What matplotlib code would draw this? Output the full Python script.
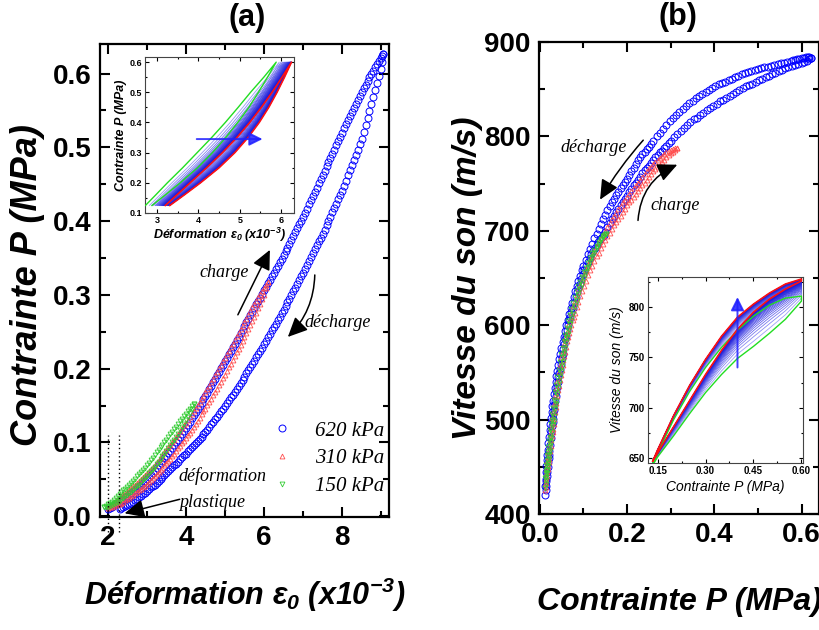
import numpy as np
import matplotlib
matplotlib.use('Agg')
import matplotlib.pyplot as plt
from matplotlib.patches import FancyArrowPatch
from matplotlib.lines import Line2D
from matplotlib.ticker import MultipleLocator

plt.rcParams['font.family'] = ['Liberation Sans', 'DejaVu Sans']
plt.rcParams['mathtext.fontset'] = 'custom'
plt.rcParams['mathtext.it'] = 'Liberation Sans:italic:bold'
plt.rcParams['mathtext.rm'] = 'Liberation Sans:italic:bold'
plt.rcParams['mathtext.bf'] = 'Liberation Sans:italic:bold'

# ---------------- DATA ----------------
# Panel (a): strain (x1e-3), stress P (MPa)
a620_load = [(2.0,.010),(2.05,.0115),(2.1,.013),(2.15,.015),(2.2,.017),(2.25,.0185),(2.3,.020),(2.35,.022),(2.4,.024),(2.45,.026),
(2.5,.028),(2.55,.030),(2.6,.032),(2.65,.034),(2.7,.036),(2.75,.0385),(2.8,.041),(2.85,.043),(2.9,.045),(2.95,.0475),
(3.0,.050),(3.05,.053),(3.1,.056),(3.15,.059),(3.2,.062),(3.25,.0655),(3.3,.069),(3.35,.072),(3.4,.075),(3.45,.0785),
(3.5,.082),(3.55,.0855),(3.6,.089),(3.65,.093),(3.7,.097),(3.75,.1005),(3.8,.104),(3.85,.108),(3.9,.112),(3.95,.116),
(4.0,.120),(4.05,.124),(4.1,.128),(4.15,.1325),(4.2,.137),(4.25,.141),(4.3,.145),(4.35,.1495),(4.4,.154),(4.45,.1585),
(4.5,.163),(4.55,.1675),(4.6,.172),(4.65,.177),(4.7,.182),(4.75,.1865),(4.8,.191),(4.85,.196),(4.9,.201),(4.95,.2055),
(5.0,.210),(5.05,.215),(5.1,.220),(5.15,.2245),(5.2,.229),(5.25,.234),(5.3,.239),(5.35,.2435),(5.4,.248),(5.45,.253),
(5.5,.258),(5.55,.263),(5.6,.268),(5.65,.2725),(5.7,.277),(5.75,.282),(5.8,.287),(5.85,.2915),(5.9,.296),(5.95,.301),
(6.0,.306),(6.05,.311),(6.1,.3155),(6.15,.3205),(6.2,.325),(6.25,.330),(6.3,.335),(6.35,.3395),(6.4,.3445),(6.45,.349),
(6.5,.354),(6.55,.359),(6.6,.364),(6.65,.3695),(6.7,.3745),(6.75,.3795),(6.8,.385),(6.85,.390),(6.9,.3955),(6.95,.4005),
(7.0,.406),(7.05,.4115),(7.1,.417),(7.15,.4225),(7.2,.428),(7.25,.4335),(7.3,.439),(7.35,.445),(7.4,.451),(7.45,.4565),
(7.5,.462),(7.55,.468),(7.6,.474),(7.65,.4795),(7.7,.485),(7.75,.491),(7.8,.497),(7.85,.5025),(7.9,.508),(7.95,.514),
(8.0,.520),(8.05,.5255),(8.1,.531),(8.15,.5365),(8.2,.542),(8.25,.5475),(8.3,.553),(8.35,.5585),(8.4,.564),(8.45,.5695),
(8.5,.575),(8.55,.580),(8.6,.585),(8.65,.590),(8.7,.595),(8.75,.5995),(8.8,.604),(8.85,.6085),(8.9,.613),(8.95,.617),
(9.0,.621),(9.03,.624),(9.05,.627)]
a620_unload = [(9.05,.627),(9.025,.616),(9.0,.606),(8.95,.5965),(8.9,.587),(8.85,.5775),(8.8,.568),(8.75,.5585),(8.7,.549),(8.65,.5395),
(8.6,.530),(8.55,.5205),(8.5,.511),(8.45,.504),(8.4,.497),(8.35,.490),(8.3,.483),(8.25,.476),(8.2,.469),(8.15,.462),
(8.1,.455),(8.05,.448),(8.0,.441),(7.95,.435),(7.9,.4295),(7.85,.4235),(7.8,.418),(7.75,.412),(7.7,.406),(7.65,.400),
(7.6,.3945),(7.55,.3885),(7.5,.383),(7.45,.3775),(7.4,.3725),(7.35,.367),(7.3,.362),(7.25,.3565),(7.2,.351),(7.15,.346),
(7.1,.3405),(7.05,.335),(7.0,.330),(6.95,.325),(6.9,.320),(6.85,.315),(6.8,.310),(6.75,.305),(6.7,.300),(6.65,.295),
(6.6,.290),(6.55,.285),(6.5,.280),(6.45,.2755),(6.4,.2705),(6.35,.266),(6.3,.261),(6.25,.2565),(6.2,.252),(6.15,.247),
(6.1,.2425),(6.05,.2375),(6.0,.233),(5.95,.2285),(5.9,.224),(5.85,.2195),(5.8,.2155),(5.75,.211),(5.7,.2065),(5.65,.202),
(5.6,.198),(5.55,.1935),(5.5,.189),(5.45,.185),(5.4,.181),(5.35,.177),(5.3,.173),(5.25,.169),(5.2,.165),(5.15,.161),
(5.1,.157),(5.05,.153),(5.0,.149),(4.95,.1455),(4.9,.142),(4.85,.1385),(4.8,.135),(4.75,.1315),(4.7,.128),(4.65,.1245),
(4.6,.121),(4.55,.1175),(4.5,.114),(4.45,.111),(4.4,.108),(4.35,.105),(4.3,.102),(4.25,.099),(4.2,.096),(4.15,.0935),
(4.1,.091),(4.05,.088),(4.0,.085),(3.95,.0825),(3.9,.080),(3.85,.077),(3.8,.074),(3.75,.0715),(3.7,.069),(3.65,.0665),
(3.6,.064),(3.55,.061),(3.5,.058),(3.45,.0555),(3.4,.053),(3.35,.0505),(3.3,.048),(3.25,.0455),(3.2,.043),(3.15,.041),
(3.1,.039),(3.05,.0365),(3.0,.034),(2.95,.032),(2.9,.030),(2.85,.028),(2.8,.026),(2.75,.024),(2.7,.022),(2.65,.020),
(2.6,.018),(2.55,.0165),(2.5,.015),(2.45,.0135),(2.4,.012),(2.35,.011),(2.3,.010)]
a310_load = [(2.0,.014),(2.05,.0155),(2.1,.017),(2.15,.019),(2.2,.021),(2.25,.023),(2.3,.025),(2.35,.027),(2.4,.029),(2.45,.031),
(2.5,.033),(2.55,.0355),(2.6,.038),(2.65,.0405),(2.7,.043),(2.75,.0455),(2.8,.048),(2.85,.0505),(2.9,.053),(2.95,.0555),
(3.0,.058),(3.05,.061),(3.1,.064),(3.15,.067),(3.2,.070),(3.25,.073),(3.3,.076),(3.35,.0795),(3.4,.083),(3.45,.0865),
(3.5,.090),(3.55,.0935),(3.6,.097),(3.65,.1005),(3.7,.104),(3.75,.108),(3.8,.112),(3.85,.1155),(3.9,.119),(3.95,.123),
(4.0,.127),(4.05,.131),(4.1,.135),(4.15,.139),(4.2,.143),(4.25,.147),(4.3,.151),(4.35,.155),(4.4,.159),(4.45,.1635),
(4.5,.168),(4.55,.1725),(4.6,.177),(4.65,.1815),(4.7,.186),(4.75,.191),(4.8,.196),(4.85,.2005),(4.9,.205),(4.95,.210),
(5.0,.215),(5.05,.2195),(5.1,.224),(5.15,.229),(5.2,.234),(5.25,.239),(5.3,.244),(5.35,.249),(5.4,.254),(5.45,.2585),
(5.5,.263),(5.55,.268),(5.6,.273),(5.65,.278),(5.7,.283),(5.75,.2875),(5.8,.292),(5.85,.2965),(5.9,.301),(5.95,.3055),
(6.0,.310),(6.05,.314),(6.1,.318)]
a310_unload = [(6.1,.318),(6.05,.309),(6.0,.300),(5.95,.294),(5.9,.288),(5.85,.282),(5.8,.276),(5.75,.2705),(5.7,.265),(5.65,.2595),
(5.6,.254),(5.55,.2485),(5.5,.243),(5.45,.2375),(5.4,.232),(5.35,.227),(5.3,.222),(5.25,.217),(5.2,.212),(5.15,.207),
(5.1,.202),(5.05,.197),(5.0,.192),(4.95,.187),(4.9,.182),(4.85,.1775),(4.8,.173),(4.75,.1685),(4.7,.164),(4.65,.1595),
(4.6,.155),(4.55,.1505),(4.5,.146),(4.45,.142),(4.4,.138),(4.35,.1335),(4.3,.129),(4.25,.125),(4.2,.121),(4.15,.117),
(4.1,.113),(4.05,.1095),(4.0,.106),(3.95,.1025),(3.9,.099),(3.85,.0955),(3.8,.092),(3.75,.0885),(3.7,.085),(3.65,.0815),
(3.6,.078),(3.55,.075),(3.5,.072),(3.45,.069),(3.4,.066),(3.35,.063),(3.3,.060),(3.25,.057),(3.2,.054),(3.15,.0515),
(3.1,.049),(3.05,.0465),(3.0,.044),(2.95,.0415),(2.9,.039),(2.85,.037),(2.8,.035),(2.75,.033),(2.7,.031),(2.65,.029),
(2.6,.027),(2.55,.025),(2.5,.023),(2.45,.0215),(2.4,.020),(2.35,.0185),(2.3,.017),(2.25,.016),(2.2,.015),(2.15,.014),
(2.1,.013),(2.05,.012),(2.0,.011)]
a150_load = [(1.9,.012),(1.95,.014),(2.0,.016),(2.05,.018),(2.1,.020),(2.15,.0225),(2.2,.025),(2.25,.0275),(2.3,.030),(2.35,.0325),
(2.4,.035),(2.45,.0375),(2.5,.040),(2.55,.0425),(2.6,.045),(2.65,.048),(2.7,.051),(2.75,.054),(2.8,.057),(2.85,.060),
(2.9,.063),(2.95,.066),(3.0,.069),(3.05,.0725),(3.1,.076),(3.15,.0795),(3.2,.083),(3.25,.0865),(3.3,.090),(3.35,.0935),
(3.4,.097),(3.45,.1005),(3.5,.104),(3.55,.1075),(3.6,.111),(3.65,.1145),(3.7,.118),(3.75,.1215),(3.8,.125),(3.85,.1285),
(3.9,.132),(3.95,.1355),(4.0,.139),(4.05,.1425),(4.1,.146),(4.15,.149),(4.2,.152)]
a150_unload = [(4.2,.152),(4.15,.146),(4.1,.140),(4.05,.135),(4.0,.130),(3.95,.1255),(3.9,.121),(3.85,.1165),(3.8,.112),(3.75,.108),
(3.7,.104),(3.65,.100),(3.6,.096),(3.55,.092),(3.5,.088),(3.45,.0845),(3.4,.081),(3.35,.0775),(3.3,.074),(3.25,.0705),
(3.2,.067),(3.15,.064),(3.1,.061),(3.05,.058),(3.0,.055),(2.95,.052),(2.9,.049),(2.85,.046),(2.8,.043),(2.75,.0405),
(2.7,.038),(2.65,.0355),(2.6,.033),(2.55,.031),(2.5,.029),(2.45,.027),(2.4,.025),(2.35,.023),(2.3,.021),(2.25,.0195),
(2.2,.018),(2.15,.0165),(2.1,.015),(2.05,.014),(2.0,.013),(1.95,.0125),(1.9,.012)]
plastic_strain = [2.0, 2.28]

# Panel (b): stress P (MPa), sound velocity (m/s)
b620_load = [(0.012,420),(0.013,425),(0.014,430),(0.015,435),(0.016,440),(0.017,445),(0.018,450),(0.019,455),(0.020,459),
(0.021,463),(0.022,467),(0.0235,473),(0.025,480),(0.0265,487),(0.028,493),(0.029,497),(0.030,501),(0.031,506),(0.032,510),
(0.0335,515),(0.035,520),(0.0365,525),(0.038,530),(0.0395,535),(0.041,540),(0.0425,545),(0.044,549),(0.046,554),(0.048,559),
(0.050,565),(0.052,570),(0.054,575),(0.056,580),(0.058,585),(0.060,589),(0.0625,595),(0.065,600),(0.0675,605),(0.070,609),
(0.0725,614),(0.075,618),(0.0785,624),(0.082,630),(0.085,635),(0.088,639),(0.0915,644),(0.095,649),(0.0985,654),(0.102,658),
(0.106,663),(0.110,667),(0.114,671),(0.118,675),(0.122,679),(0.126,682),(0.130,685),(0.134,688),(0.138,691),(0.142,693),
(0.146,696),(0.150,699),(0.155,704),(0.160,708),(0.165,712),(0.170,716),(0.175,720),(0.180,723),(0.185,727),(0.190,730),
(0.195,734),(0.200,737),(0.205,741),(0.210,744),(0.215,748),(0.220,751),(0.225,754),(0.230,757),(0.235,761),(0.240,764),
(0.245,767),(0.250,769),(0.255,772),(0.260,775),(0.265,778),(0.270,780),(0.275,783),(0.280,785),(0.285,788),(0.290,790),
(0.295,793),(0.300,795),(0.3075,799),(0.315,803),(0.3225,806),(0.330,809),(0.3375,812),(0.345,815),(0.3525,818),(0.360,820),
(0.3675,823),(0.375,825),(0.3825,828),(0.390,830),(0.3975,832),(0.405,834),(0.4125,837),(0.420,839),(0.4275,841),(0.435,843),
(0.4425,845),(0.450,847),(0.4575,849),(0.465,851),(0.4725,853),(0.480,854),(0.4875,856),(0.495,858),(0.5025,860),(0.510,861),
(0.5175,863),(0.525,864),(0.5325,866),(0.540,867),(0.5475,869),(0.555,870),(0.5625,872),(0.570,873),(0.5775,875),(0.585,876),
(0.5925,877),(0.600,878),(0.606,879),(0.612,880),(0.617,882),(0.621,883)]
b620_unload = [(0.621,883),(0.618,884),(0.615,884),(0.610,884),(0.605,883),(0.600,883),(0.595,882),(0.590,882),(0.585,881),
(0.580,881),(0.575,880),(0.5675,879),(0.560,878),(0.5525,878),(0.545,877),(0.5375,876),(0.530,875),(0.5225,874),(0.515,873),
(0.5075,872),(0.500,871),(0.4925,870),(0.485,869),(0.4775,868),(0.470,867),(0.4625,866),(0.455,864),(0.4475,863),(0.440,861),
(0.4325,860),(0.425,858),(0.4175,857),(0.410,855),(0.4025,853),(0.395,851),(0.3875,849),(0.380,847),(0.3725,845),(0.365,843),
(0.3575,841),(0.350,838),(0.3425,835),(0.335,832),(0.3275,829),(0.320,826),(0.3125,823),(0.305,819),(0.2975,816),(0.290,812),
(0.2825,808),(0.275,804),(0.2675,800),(0.260,795),(0.255,792),(0.250,789),(0.245,787),(0.240,784),(0.235,781),(0.230,778),
(0.225,775),(0.220,771),(0.215,767),(0.210,763),(0.205,759),(0.200,755),(0.195,752),(0.190,748),(0.185,745),(0.180,741),
(0.175,738),(0.170,734),(0.165,730),(0.160,726),(0.155,722),(0.150,717),(0.145,712),(0.140,707),(0.135,702),(0.130,697),
(0.125,692),(0.120,686),(0.115,681),(0.110,675),(0.105,669),(0.100,663),(0.096,658),(0.092,652),(0.0885,647),(0.085,641),
(0.0815,636),(0.078,630),(0.0745,624),(0.071,618),(0.0675,612),(0.064,606),(0.061,600),(0.058,594),(0.055,588),(0.052,582),
(0.0495,576),(0.047,570),(0.0445,564),(0.042,558),(0.040,552),(0.038,546),(0.036,540),(0.034,534),(0.032,527),(0.030,520),
(0.0285,514),(0.027,508),(0.0255,502),(0.024,495),(0.0225,489),(0.021,482),(0.0195,475),(0.018,468),(0.017,463),(0.016,457),
(0.015,451),(0.014,444),(0.013,437),(0.012,430)]
b310_load = [(0.012,425),(0.013,429),(0.014,433),(0.015,436),(0.016,440),(0.017,444),(0.018,448),(0.019,451),(0.020,455),
(0.021,458),(0.022,462),(0.0235,467),(0.025,472),(0.0265,478),(0.028,483),(0.029,487),(0.030,490),(0.0315,495),(0.033,501),
(0.035,508),(0.0365,513),(0.038,518),(0.040,525),(0.042,531),(0.044,536),(0.046,542),(0.048,547),(0.050,553),(0.052,558),
(0.054,563),(0.056,567),(0.058,572),(0.0605,577),(0.063,583),(0.065,587),(0.0675,592),(0.070,596),(0.072,600),(0.075,605),
(0.0775,609),(0.080,613),(0.084,619),(0.088,625),(0.092,631),(0.096,636),(0.1005,642),(0.105,647),(0.110,653),(0.115,658),
(0.120,663),(0.125,668),(0.130,673),(0.135,677),(0.140,682),(0.145,686),(0.150,690),(0.155,694),(0.160,698),(0.165,702),
(0.170,706),(0.175,709),(0.180,713),(0.185,716),(0.190,720),(0.195,723),(0.200,727),(0.205,730),(0.210,733),(0.215,736),
(0.220,739),(0.225,742),(0.230,745),(0.235,748),(0.240,751),(0.245,754),(0.250,757),(0.255,760),(0.260,763),(0.265,765),
(0.270,768),(0.275,770),(0.280,773),(0.285,775),(0.290,778),(0.295,780),(0.300,782),(0.305,784),(0.310,786),(0.314,788)]
b310_unload = [(0.314,788),(0.310,788),(0.305,787),(0.300,786),(0.295,785),(0.290,783),(0.285,781),(0.280,779),(0.275,777),
(0.270,775),(0.265,773),(0.260,771),(0.255,768),(0.250,766),(0.245,763),(0.240,760),(0.235,757),(0.230,754),(0.225,751),
(0.220,748),(0.215,745),(0.210,742),(0.205,739),(0.200,736),(0.195,733),(0.190,730),(0.185,726),(0.180,723),(0.175,719),
(0.170,716),(0.165,712),(0.160,708),(0.155,704),(0.150,700),(0.145,696),(0.140,692),(0.135,688),(0.130,684),(0.125,679),
(0.120,674),(0.115,669),(0.110,664),(0.105,659),(0.1005,654),(0.096,648),(0.092,643),(0.088,638),(0.084,632),(0.080,626),
(0.076,620),(0.072,613),(0.0685,607),(0.065,600),(0.0615,593),(0.058,586),(0.055,580),(0.052,573),(0.049,566),(0.046,558),
(0.043,550),(0.040,541),(0.0375,533),(0.035,525),(0.0325,517),(0.030,508),(0.0285,502),(0.027,496),(0.0255,491),(0.024,485),
(0.0225,478),(0.021,472),(0.0195,466),(0.018,460),(0.017,456),(0.016,453),(0.015,448),(0.014,443),(0.013,438),(0.012,432)]
b150_load = [(0.012,428),(0.013,432),(0.014,436),(0.015,439),(0.016,443),(0.017,447),(0.018,451),(0.019,454),(0.020,458),
(0.021,462),(0.0225,467),(0.024,472),(0.025,476),(0.0265,481),(0.028,487),(0.030,494),(0.0315,499),(0.033,504),(0.035,511),
(0.0365,516),(0.038,520),(0.040,527),(0.042,533),(0.044,539),(0.046,545),(0.048,550),(0.050,556),(0.052,561),(0.054,566),
(0.056,571),(0.058,576),(0.0605,582),(0.063,587),(0.065,591),(0.0675,596),(0.070,601),(0.072,605),(0.076,612),(0.080,619),
(0.084,626),(0.088,632),(0.092,638),(0.096,644),(0.1005,650),(0.105,656),(0.110,662),(0.115,667),(0.120,672),(0.125,677),
(0.130,682),(0.135,686),(0.140,690),(0.145,693),(0.152,697)]
b150_unload = [(0.152,697),(0.148,696),(0.145,694),(0.140,691),(0.135,688),(0.130,684),(0.125,680),(0.120,676),(0.115,671),
(0.110,666),(0.105,661),(0.1005,656),(0.096,651),(0.092,646),(0.088,641),(0.084,636),(0.080,630),(0.076,624),(0.072,617),
(0.0685,611),(0.065,604),(0.0615,597),(0.058,590),(0.055,583),(0.052,576),(0.049,569),(0.046,561),(0.043,553),(0.040,545),
(0.0375,537),(0.035,529),(0.0325,521),(0.030,512),(0.0285,506),(0.027,500),(0.0255,495),(0.024,489),(0.0225,482),(0.021,477),
(0.0195,471),(0.018,466),(0.017,462),(0.016,457),(0.015,452),(0.014,447),(0.013,443),(0.012,438)]

# Inset (a): cycles, strain at given stress levels
insa_P = [0.125, 0.16, 0.2, 0.25, 0.3, 0.35, 0.4, 0.45, 0.5, 0.55, 0.6]
insa_first_load = [2.72, 2.97, 3.25, 3.62, 3.97, 4.32, 4.65, 4.96, 5.26, 5.58, 5.88]
insa_first_unload = [2.88, 3.20, 3.56, 3.98, 4.34, 4.66, 4.95, 5.22, 5.45, 5.67, 5.88]
insa_last_load = [3.20, 3.48, 3.80, 4.20, 4.58, 4.93, 5.24, 5.52, 5.78, 6.02, 6.25]
insa_last_unload = [3.31, 3.66, 4.05, 4.50, 4.88, 5.20, 5.47, 5.70, 5.90, 6.08, 6.25]
insa_cycle_pos = [0.2, 0.32, 0.42, 0.5, 0.56, 0.61, 0.66, 0.7, 0.74, 0.77, 0.8, 0.83, 0.85, 0.87,
                  0.89, 0.91, 0.92, 0.93, 0.94, 0.95, 0.96, 0.97, 0.98, 0.99]

# Inset (b): cycles, velocity at given stress levels
insb_P = [0.135, 0.15, 0.2, 0.25, 0.3, 0.35, 0.4, 0.45, 0.5, 0.55, 0.6]
insb_first_up = [645, 655, 688, 716, 740, 760, 777, 791, 802, 809, 811]
insb_first_low = [643, 651, 672, 694, 715, 733, 749, 761, 774, 788, 806]
insb_last_up = [647, 658, 692, 722, 748, 771, 790, 803, 814, 823, 828]
insb_last_low = [647, 655, 681, 707, 733, 757, 778, 795, 808, 818, 826]
insb_cycle_pos = [0.15, 0.28, 0.38, 0.46, 0.53, 0.59, 0.64, 0.68, 0.72, 0.76, 0.79, 0.82, 0.84, 0.86,
                  0.88, 0.9, 0.92, 0.93, 0.94, 0.95, 0.96, 0.97, 0.98, 0.99]

legend_labels = ['620 kPa', '310 kPa', '150 kPa']
a_xticks = [2, 4, 6, 8]; a_xticklabels = ['2', '4', '6', '8']
a_yticks = [0.0, 0.1, 0.2, 0.3, 0.4, 0.5, 0.6]; a_yticklabels = ['0.0', '0.1', '0.2', '0.3', '0.4', '0.5', '0.6']
b_xticks = [0.0, 0.2, 0.4, 0.6]; b_xticklabels = ['0.0', '0.2', '0.4', '0.6']
b_yticks = [400, 500, 600, 700, 800, 900]; b_yticklabels = ['400', '500', '600', '700', '800', '900']
ia_xticks = [3, 4, 5, 6]; ia_xticklabels = ['3', '4', '5', '6']
ia_yticks = [0.1, 0.2, 0.3, 0.4, 0.5, 0.6]; ia_yticklabels = ['0.1', '0.2', '0.3', '0.4', '0.5', '0.6']
ib_xticks = [0.15, 0.30, 0.45, 0.60]; ib_xticklabels = ['0.15', '0.30', '0.45', '0.60']
ib_yticks = [650, 700, 750, 800]; ib_yticklabels = ['650', '700', '750', '800']

# ---------------- FIGURE ----------------
W, H = 820, 630
fig = plt.figure(figsize=(W / 100, H / 100), dpi=100)


def add_ax(l, t, r, b):
    return fig.add_axes([l / W, 1 - b / H, (r - l) / W, (b - t) / H])


axA = add_ax(100, 44, 389, 517)
axB = add_ax(539, 42, 819, 514)
insA = add_ax(145, 57, 294, 213)
insB = add_ax(648, 277, 803, 463)

BLUE = '#0000FF'
RED = '#FF4D4D'
GREEN = '#33CC33'
SERIF = dict(family='Liberation Serif', style='italic')


def style_main(ax, xt, xtl, yt, ytl, xminor, yminor):
    ax.set_xticks(xt, labels=xtl, fontsize=20, fontweight='bold')
    ax.set_yticks(yt, labels=ytl, fontsize=20, fontweight='bold')
    ax.xaxis.set_minor_locator(MultipleLocator(xminor))
    ax.yaxis.set_minor_locator(MultipleLocator(yminor))
    ax.tick_params(which='both', direction='in', top=True, right=True, width=1.5)
    ax.tick_params(which='major', length=7, pad=6)
    ax.tick_params(which='minor', length=4)
    for s in ax.spines.values():
        s.set_linewidth(1.6)


def style_inset(ax, xt, xtl, yt, ytl, xminor, yminor, fs):
    ax.set_xticks(xt, labels=xtl, fontsize=fs, fontweight='bold')
    ax.set_yticks(yt, labels=ytl, fontsize=fs, fontweight='bold')
    ax.xaxis.set_minor_locator(MultipleLocator(xminor))
    ax.yaxis.set_minor_locator(MultipleLocator(yminor))
    ax.tick_params(which='both', direction='in', top=True, right=True, width=0.8)
    ax.tick_params(which='major', length=3, pad=2)
    ax.tick_params(which='minor', length=1.5)
    for s in ax.spines.values():
        s.set_linewidth(0.8)
        s.set_color('#444444')


def pts(ax, data, marker, ms, color, mew, z):
    arr = np.array(data, dtype=float)
    ax.plot(arr[:, 0], arr[:, 1], ls='none', marker=marker, ms=ms, mfc='none', mec=color, mew=mew, zorder=z)


def arrow(ax, tail, tip, rad=0.0, color='k', lw=1.1, hl=0.6, hw=0.28, ms=20, alpha=1.0):
    p = FancyArrowPatch(tail, tip, connectionstyle=f'arc3,rad={rad}',
                        arrowstyle=f'-|>,head_length={hl},head_width={hw}',
                        mutation_scale=ms, lw=lw, color=color, shrinkA=0, shrinkB=0,
                        alpha=alpha, zorder=6, clip_on=False)
    ax.add_patch(p)


# ---- Panel (a)
for d in (a620_load, a620_unload):
    pts(axA, d, 'o', 5.0, BLUE, 0.7, 2)
for d in (a310_load, a310_unload):
    pts(axA, d, '^', 3.5, RED, 0.6, 3)
for d in (a150_load, a150_unload):
    pts(axA, d, 'v', 3.5, GREEN, 0.6, 4)
axA.set_xlim(1.8, 9.2)
axA.set_ylim(-0.001, 0.64)
style_main(axA, a_xticks, a_xticklabels, a_yticks, a_yticklabels, 1, 0.05)
axA.vlines(plastic_strain, -0.022, 0.11, colors='k', linestyles=(0, (1, 2)), lw=1, clip_on=False, zorder=5)
axA.set_ylabel('Contrainte P (MPa)', fontsize=26, fontweight='bold', fontstyle='italic')
axA.yaxis.set_label_coords(-0.19, 0.49)
axA.set_xlabel(r'Déformation $\varepsilon_0$ (x10$^{-3}$)', fontsize=22, fontweight='bold', fontstyle='italic')
axA.xaxis.set_label_coords(0.5, -0.125)
axA.text(0.509, 1.055, '(a)', transform=axA.transAxes, ha='center', va='center', fontsize=22, fontweight='bold')

handles = [Line2D([], [], ls='none', marker='o', ms=5.0, mfc='none', mec=BLUE, mew=0.7),
           Line2D([], [], ls='none', marker='^', ms=3.5, mfc='none', mec=RED, mew=0.6),
           Line2D([], [], ls='none', marker='v', ms=3.5, mfc='none', mec=GREEN, mew=0.6)]
axA.legend(handles, legend_labels, loc='upper left', bbox_to_anchor=(0.594, 0.203), frameon=False,
           prop=dict(family='Liberation Serif', style='italic', size=15), handlelength=1.0,
           handletextpad=1.1, labelspacing=0.4, borderaxespad=0, borderpad=0)

axA.text(4.99, 0.331, 'charge', fontsize=13, ha='center', va='center', **SERIF)
axA.text(7.89, 0.262, 'décharge', fontsize=13, ha='center', va='center', **SERIF)
axA.text(4.94, 0.055, 'déformation', fontsize=13, ha='center', va='center', **SERIF)
axA.text(4.66, 0.019, 'plastique', fontsize=13, ha='center', va='center', **SERIF)
arrow(axA, (5.33, 0.273), (6.15, 0.361))
arrow(axA, (7.3, 0.327), (6.61, 0.243), rad=-0.2)
arrow(axA, (3.84, 0.023), (2.43, 0.004))

# ---- Inset (a)
Pa = np.array(insa_P)
fl, fu = np.array(insa_first_load), np.array(insa_first_unload)
ll, lu = np.array(insa_last_load), np.array(insa_last_unload)
pale, dark = np.array([0.72, 0.72, 1.0]), np.array([0.1, 0.1, 0.85])
for w in insa_cycle_pos:
    c = tuple(pale + (dark - pale) * w)
    xs = np.concatenate([fl + w * (ll - fl), (fu + w * (lu - fu))[::-1]])
    ys = np.concatenate([Pa, Pa[::-1]])
    insA.plot(xs, ys, color=c, lw=0.6, zorder=2)
insA.plot(np.concatenate([fl, fu[::-1]]), np.concatenate([Pa, Pa[::-1]]), color='#22DD22', lw=1.0, zorder=3)
insA.plot(np.concatenate([ll, lu[::-1]]), np.concatenate([Pa, Pa[::-1]]), color='#FF1010', lw=1.2, zorder=3)
insA.set_xlim(2.71, 6.31)
insA.set_ylim(0.1, 0.617)
style_inset(insA, ia_xticks, ia_xticklabels, ia_yticks, ia_yticklabels, 0.5, 0.05, 6.5)
insA.set_ylabel('Contrainte P (MPa)', fontsize=9, fontweight='bold', fontstyle='italic')
insA.yaxis.set_label_coords(-0.12, 0.5)
insA.set_xlabel(r'Déformation $\varepsilon_0$ (x10$^{-3}$)', fontsize=9, fontweight='bold', fontstyle='italic')
insA.xaxis.set_label_coords(0.5, -0.08)
arrow(insA, (3.96, 0.345), (5.55, 0.345), color='#2020FF', lw=1.4, hl=0.4, hw=0.2, ms=20, alpha=0.85)

# ---- Panel (b)
for d in (b620_load, b620_unload):
    pts(axB, d, 'o', 5.0, BLUE, 0.7, 2)
for d in (b310_load, b310_unload):
    pts(axB, d, '^', 3.5, RED, 0.6, 3)
for d in (b150_load, b150_unload):
    pts(axB, d, 'v', 3.5, GREEN, 0.6, 4)
axB.set_xlim(-0.002, 0.64)
axB.set_ylim(400, 900)
style_main(axB, b_xticks, b_xticklabels, b_yticks, b_yticklabels, 0.1, 50)
axB.set_ylabel('Vitesse du son (m/s)', fontsize=24, fontweight='bold', fontstyle='italic')
axB.yaxis.set_label_coords(-0.2, 0.5)
axB.set_xlabel('Contrainte P (MPa)', fontsize=23, fontweight='bold', fontstyle='italic')
axB.xaxis.set_label_coords(0.5, -0.155)
axB.text(0.496, 1.053, '(b)', transform=axB.transAxes, ha='center', va='center', fontsize=22, fontweight='bold')
axB.text(0.124, 788, 'décharge', fontsize=13, ha='center', va='center', **SERIF)
axB.text(0.31, 727, 'charge', fontsize=13, ha='center', va='center', **SERIF)
arrow(axB, (0.237, 796), (0.138, 733), rad=0.05)
arrow(axB, (0.225, 711), (0.315, 770), rad=-0.3)

# ---- Inset (b)
Pb = np.array(insb_P)
gu, gl = np.array(insb_first_up), np.array(insb_first_low)
ru, rl = np.array(insb_last_up), np.array(insb_last_low)
for w in insb_cycle_pos:
    c = tuple(pale + (dark - pale) * w)
    xs = np.concatenate([Pb, Pb[::-1]])
    ys = np.concatenate([gu + w * (ru - gu), (gl + w * (rl - gl))[::-1]])
    insB.plot(xs, ys, color=c, lw=0.6, zorder=2)
insB.plot(np.concatenate([Pb, Pb[::-1]]), np.concatenate([gu, gl[::-1]]), color='#22DD22', lw=1.0, zorder=3)
insB.plot(np.concatenate([Pb, Pb[::-1]]), np.concatenate([ru, rl[::-1]]), color='#FF1010', lw=1.2, zorder=3)
insB.set_xlim(0.12, 0.605)
insB.set_ylim(645, 830)
style_inset(insB, ib_xticks, ib_xticklabels, ib_yticks, ib_yticklabels, 0.075, 25, 7)
insB.set_ylabel('Vitesse du son (m/s)', fontsize=10, fontstyle='italic')
insB.yaxis.set_label_coords(-0.155, 0.5)
insB.set_xlabel('Contrainte P (MPa)', fontsize=10, fontstyle='italic')
insB.xaxis.set_label_coords(0.5, -0.09)
arrow(insB, (0.40, 740), (0.40, 810), color='#2020FF', lw=1.4, hl=0.4, hw=0.2, ms=20, alpha=0.85)

fig.savefig('out.png', dpi=100)
